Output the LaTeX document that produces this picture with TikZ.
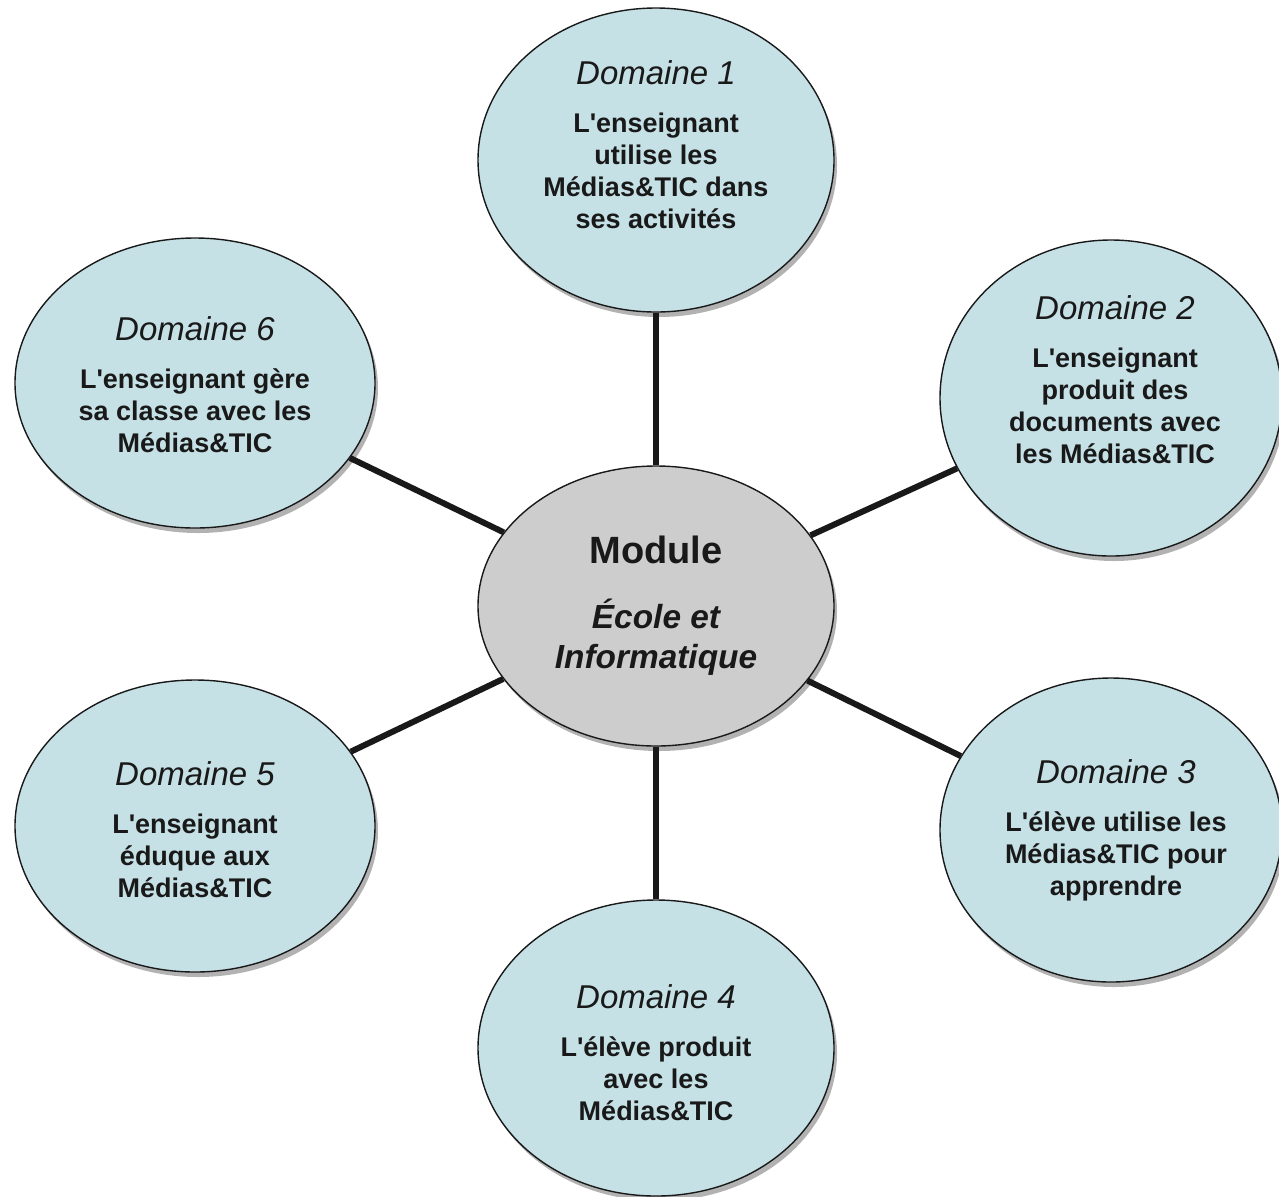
\documentclass[tikz,border=0pt]{standalone}
\usepackage{fontspec}
\setmainfont{Liberation Sans}
\usetikzlibrary{shapes.geometric,shadows}
\definecolor{domfill}{RGB}{197,225,230}
\definecolor{hubfill}{RGB}{205,205,205}
\definecolor{ink}{RGB}{25,25,25}
\newcommand{\ttl}[1]{{\fontsize{16.5}{20}\selectfont\mdseries\itshape #1}\\[8pt]}
\begin{document}
\begin{tikzpicture}[
        x=0.5pt, y=-0.5pt,
        dom/.style={draw=ink, line width=0.7pt, ellipse, fill=domfill, inner sep=0pt,
            drop shadow={shadow xshift=1.5pt, shadow yshift=-2.5pt, opacity=0.3, fill=black}},
        hub/.style={dom, fill=hubfill, minimum width=178pt, minimum height=140pt,
            align=center, text=ink, font=\fontsize{16.7}{20}\selectfont\bfseries\itshape},
        txt/.style={align=center, text=ink, inner sep=0pt,
            font=\fontsize{13.5}{16}\selectfont\bfseries},
        ln/.style={line width=3pt, draw=ink},
    ]
    \useasboundingbox (0,0) rectangle (1279,1196);

    \node[hub](0) at (656,606) {{\fontsize{19}{22}\selectfont\upshape Module}\\[12.5pt]École et\\Informatique};

    \node[dom, minimum width=178pt, minimum height=152pt](1) at (656,160) {};
    \node[dom, minimum width=171pt, minimum height=158pt](2) at (1111,398) {};
    \node[dom, minimum width=171pt, minimum height=152pt](3) at (1111,830) {};
    \node[dom, minimum width=178pt, minimum height=148pt](4) at (656,1048) {};
    \node[dom, minimum width=180pt, minimum height=146pt](5) at (195,826) {};
    \node[dom, minimum width=180pt, minimum height=145pt](6) at (195,383) {};

    \node[txt](1t) at (656,145) {\ttl{Domaine 1}L\textquotesingle enseignant\\utilise les\\Médias\&TIC dans\\ses activités};
    \node[txt](2t) at (1115,380) {\ttl{Domaine 2}L\textquotesingle enseignant\\produit des\\documents avec\\les Médias\&TIC};
    \node[txt](3t) at (1116,830) {\ttl{Domaine 3}L\textquotesingle élève utilise les\\Médias\&TIC pour\\apprendre};
    \node[txt](4t) at (656,1053) {\ttl{Domaine 4}L\textquotesingle élève produit\\avec les\\Médias\&TIC};
    \node[txt](5t) at (195,830) {\ttl{Domaine 5}L\textquotesingle enseignant\\éduque aux\\Médias\&TIC};
    \node[txt](6t) at (195,385) {\ttl{Domaine 6}L\textquotesingle enseignant gère\\sa classe avec les\\Médias\&TIC};

    \path[ln]
    (0) edge (1) edge (2) edge (3)
    (0) edge (4) edge (5) edge (6)
    ;
    \end{tikzpicture}
\end{document}
